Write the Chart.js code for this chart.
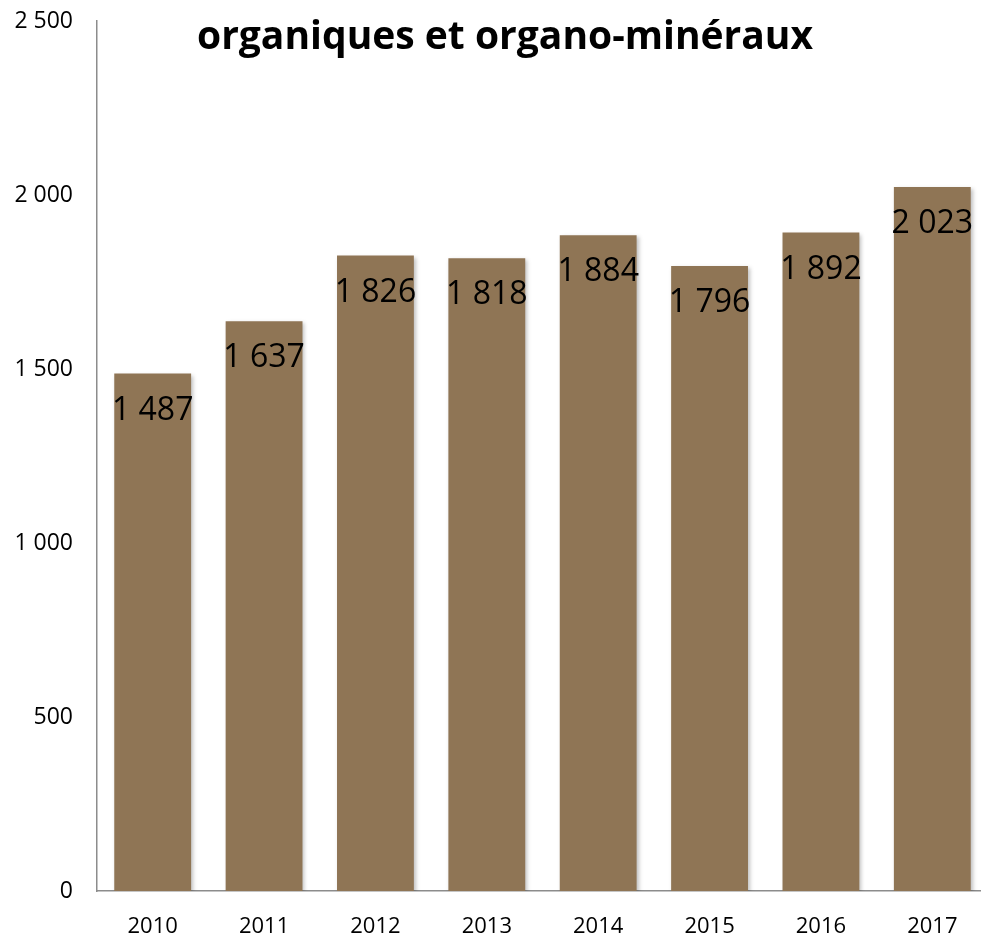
<!DOCTYPE html>
<html>
<head>
<meta charset="utf-8">
<script src="https://cdn.jsdelivr.net/npm/chart.js@4/dist/chart.umd.min.js"></script>
<style>
  html, body { margin: 0; padding: 0; background: #fff; overflow: hidden; }
  #wrap { width: 988px; height: 938px; }
</style>
</head>
<body>
<div id="wrap"><canvas id="myChart" width="988" height="938"></canvas></div>
<script>
  var years = ["2010", "2011", "2012", "2013", "2014", "2015", "2016", "2017"];
  var tonnes = [1487, 1637, 1826, 1818, 1884, 1796, 1892, 2023];
  var yTicks = [0, 500, 1000, 1500, 2000, 2500];
  var titleText = "organiques et organo-minéraux";
  var barColor = "#8F7555";

  function fmt(v) {
    return String(v).replace(/\B(?=(\d{3})+(?!\d))/g, " ");
  }

  // shadow under the bars + value labels inside the top of each bar
  var barExtras = {
    id: "barExtras",
    beforeDatasetsDraw: function(chart) {
      var ctx = chart.ctx;
      ctx.save();
      ctx.shadowColor = "rgba(0,0,0,0.25)";
      ctx.shadowBlur = 4;
      ctx.shadowOffsetX = 2;
      ctx.shadowOffsetY = 2;
    },
    afterDatasetsDraw: function(chart) {
      var ctx = chart.ctx;
      ctx.restore();
      ctx.save();
      ctx.font = "32px 'Open Sans'";
      ctx.fillStyle = "#000";
      ctx.textAlign = "center";
      ctx.textBaseline = "middle";
      chart.getDatasetMeta(0).data.forEach(function(bar, i) {
        ctx.fillText(fmt(tonnes[i]), bar.x, bar.y + 37);
      });
      ctx.restore();
    },
    afterDraw: function(chart) {
      var ctx = chart.ctx;
      ctx.save();
      ctx.font = "bold 39px 'Open Sans'";
      ctx.fillStyle = "#000";
      ctx.textAlign = "center";
      ctx.textBaseline = "alphabetic";
      ctx.fillText(titleText, 505, 49);
      ctx.restore();
    }
  };

  new Chart("myChart", {
    type: "bar",
    data: {
      labels: years,
      datasets: [{
        data: tonnes,
        backgroundColor: barColor,
        barPercentage: 1,
        categoryPercentage: 0.69
      }]
    },
    options: {
      responsive: false,
      animation: false,
      layout: { padding: { top: 21, right: 0, bottom: 0, left: 0 } },
      plugins: {
        legend: { display: false },
        tooltip: { enabled: false }
      },
      scales: {
        x: {
          grid: { display: false },
          border: { color: "#8c8c8c", width: 1.5 },
          ticks: {
            color: "#000",
            padding: 15,
            font: { family: "Open Sans", size: 22 }
          },
          afterFit: function(scale) {
            scale.height = 47;
            scale.paddingLeft = 0;
            scale.paddingRight = 0;
          }
        },
        y: {
          min: 0,
          max: 2500,
          grid: { display: false },
          border: { color: "#8c8c8c", width: 1.5 },
          afterBuildTicks: function(scale) {
            scale.ticks = yTicks.map(function(v) { return { value: v }; });
          },
          ticks: {
            color: "#000",
            padding: 16,
            font: { family: "Open Sans", size: 23 },
            callback: function(v) { return fmt(v); }
          },
          afterFit: function(scale) {
            scale.width = 97;
            scale.paddingTop = 0;
            scale.paddingBottom = 0;
          }
        }
      }
    },
    plugins: [barExtras]
  });
</script>
</body>
</html>
